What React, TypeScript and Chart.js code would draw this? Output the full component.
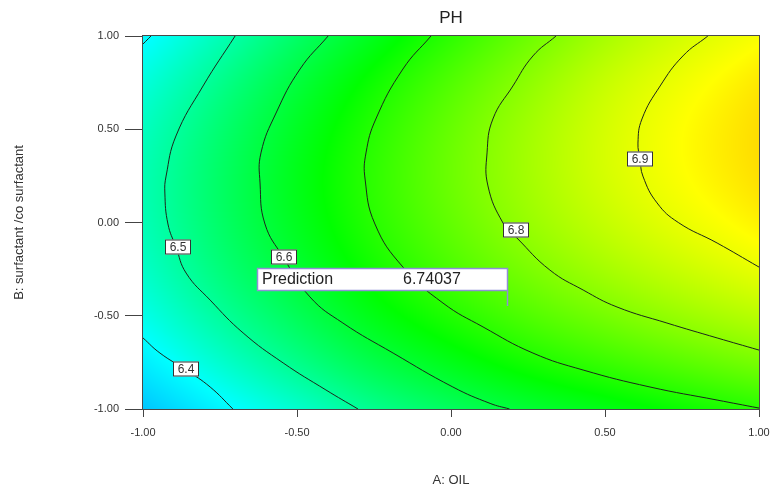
import React, { useEffect, useRef } from "react";
import { Chart, registerables } from "chart.js";
Chart.register(...registerables);

const chartTitle = "PH";
const xAxisTitle = "A: OIL";
const yAxisTitle = "B: surfactant /co surfactant";
const xTickValues = [-1, -0.5, 0, 0.5, 1];
const yTickValues = [-1, -0.5, 0, 0.5, 1];

// Response surface: columns = A values, rows = B values (top to bottom)
const gridA = [-1, -0.75, -0.5, -0.25, 0, 0.25, 0.5, 0.75, 1];
const gridB = [1, 0.75, 0.5, 0.25, 0, -0.25, -0.5, -0.75, -1];
const phGrid = [
  [6.390, 6.473, 6.556, 6.633, 6.705, 6.770, 6.830, 6.876, 6.914],
  [6.434, 6.517, 6.598, 6.674, 6.742, 6.804, 6.861, 6.905, 6.943],
  [6.463, 6.545, 6.624, 6.698, 6.764, 6.823, 6.876, 6.919, 6.955],
  [6.476, 6.557, 6.635, 6.707, 6.770, 6.826, 6.876, 6.917, 6.952],
  [6.473, 6.554, 6.629, 6.700, 6.760, 6.814, 6.860, 6.899, 6.933],
  [6.455, 6.535, 6.608, 6.677, 6.735, 6.785, 6.828, 6.865, 6.898],
  [6.421, 6.500, 6.571, 6.639, 6.693, 6.741, 6.780, 6.816, 6.848],
  [6.371, 6.449, 6.519, 6.585, 6.636, 6.681, 6.717, 6.750, 6.782],
  [6.305, 6.383, 6.450, 6.515, 6.564, 6.606, 6.638, 6.670, 6.700],
];

const colorStopValues = [5.98, 6.4, 6.66, 6.92, 7.18];
const colorStopColors = [
  [0, 0, 255],
  [0, 255, 255],
  [0, 255, 0],
  [255, 255, 0],
  [255, 0, 0],
];

// Contour lines (A, B)
const contour64aX = [-1, -0.974];
const contour64aY = [0.957, 1];
const contour64X = [-1, -0.945, -0.86, -0.782, -0.708];
const contour64Y = [-0.619, -0.7, -0.791, -0.882, -1];
const contour65X = [-0.701, -0.805, -0.893, -0.925, -0.929, -0.919, -0.893, -0.86, -0.782, -0.675, -0.545, -0.406, -0.302];
const contour65Y = [1, 0.732, 0.464, 0.249, 0.158, -0.008, -0.131, -0.271, -0.416, -0.592, -0.753, -0.898, -1];
const contour66X = [-0.399, -0.49, -0.568, -0.617, -0.62, -0.604, -0.545, -0.458, -0.351, -0.188, 0.006, 0.127, 0.19];
const contour66Y = [1, 0.823, 0.587, 0.373, 0.212, -0.008, -0.185, -0.399, -0.539, -0.7, -0.882, -0.97, -1];
const contour67X = [-0.065, -0.156, -0.244, -0.276, -0.279, -0.247, -0.156, -0.026, 0.104, 0.266, 0.429, 0.646, 0.864, 1.0];
const contour67Y = [1, 0.823, 0.555, 0.373, 0.233, -0.008, -0.239, -0.432, -0.56, -0.7, -0.791, -0.882, -0.952, -0.995];
const contour68X = [0.341, 0.266, 0.201, 0.136, 0.117, 0.12, 0.169, 0.214, 0.321, 0.429, 0.539, 0.701, 0.864, 1.0];
const contour68Y = [1, 0.893, 0.732, 0.555, 0.373, 0.196, -0.003, -0.083, -0.255, -0.362, -0.453, -0.539, -0.619, -0.684];
const contour69X = [0.834, 0.753, 0.679, 0.62, 0.607, 0.614, 0.623, 0.669, 0.738, 0.864, 1.0];
const contour69Y = [1, 0.893, 0.732, 0.555, 0.426, 0.34, 0.249, 0.105, 0.0, -0.11, -0.239];

const contourLabelText = ["6.4", "6.5", "6.6", "6.8", "6.9"];
const contourLabelX = [-0.86, -0.886, -0.542, 0.211, 0.614];
const contourLabelY = [-0.786, -0.131, -0.185, -0.038, 0.343];

const predictionLabel = "Prediction";
const predictionValue = "6.74037";
const predictionA = 0.182;
const predictionB = -0.448;

const FONT = "'Liberation Sans', Arial, sans-serif";

function toPoints(xs: number[], ys: number[]) {
  return xs.map((x, i) => ({ x, y: ys[i] }));
}

function gridValue(i: number, j: number): number {
  const nA = gridA.length;
  const nB = gridB.length;
  if (i < 0) return 2 * gridValue(0, j) - gridValue(1, j);
  if (i > nA - 1) return 2 * gridValue(nA - 1, j) - gridValue(nA - 2, j);
  if (j < 0) return 2 * gridValue(i, 0) - gridValue(i, 1);
  if (j > nB - 1) return 2 * gridValue(i, nB - 1) - gridValue(i, nB - 2);
  return phGrid[j][i];
}

function cr(p0: number, p1: number, p2: number, p3: number, t: number) {
  return 0.5 * (2 * p1 + (-p0 + p2) * t + (2 * p0 - 5 * p1 + 4 * p2 - p3) * t * t + (-p0 + 3 * p1 - 3 * p2 + p3) * t * t * t);
}

function sampleSurface(a: number, b: number) {
  const fx = (a - gridA[0]) / (gridA[1] - gridA[0]);
  const fy = (b - gridB[0]) / (gridB[1] - gridB[0]);
  let i = Math.floor(fx);
  let j = Math.floor(fy);
  i = Math.max(0, Math.min(gridA.length - 2, i));
  j = Math.max(0, Math.min(gridB.length - 2, j));
  const tx = fx - i;
  const ty = fy - j;
  const rows: number[] = [];
  for (let k = -1; k <= 2; k++) {
    rows.push(cr(gridValue(i - 1, j + k), gridValue(i, j + k), gridValue(i + 1, j + k), gridValue(i + 2, j + k), tx));
  }
  return cr(rows[0], rows[1], rows[2], rows[3], ty);
}

function colorFor(v: number): number[] {
  const n = colorStopValues.length;
  if (v <= colorStopValues[0]) return colorStopColors[0];
  if (v >= colorStopValues[n - 1]) return colorStopColors[n - 1];
  for (let k = 0; k < n - 1; k++) {
    if (v <= colorStopValues[k + 1]) {
      const t = (v - colorStopValues[k]) / (colorStopValues[k + 1] - colorStopValues[k]);
      const c0 = colorStopColors[k];
      const c1 = colorStopColors[k + 1];
      return [c0[0] + (c1[0] - c0[0]) * t, c0[1] + (c1[1] - c0[1]) * t, c0[2] + (c1[2] - c0[2]) * t];
    }
  }
  return colorStopColors[n - 1];
}

const surfacePlugin = {
  id: "surface",
  beforeDatasetsDraw(chart: any) {
    const { ctx, chartArea, scales } = chart;
    const w = Math.round(chartArea.right - chartArea.left);
    const h = Math.round(chartArea.bottom - chartArea.top);
    const off = document.createElement("canvas");
    off.width = w;
    off.height = h;
    const octx = off.getContext("2d")!;
    const img = octx.createImageData(w, h);
    for (let py = 0; py < h; py++) {
      const b = scales.y.getValueForPixel(chartArea.top + py + 0.5);
      for (let px = 0; px < w; px++) {
        const a = scales.x.getValueForPixel(chartArea.left + px + 0.5);
        const c = colorFor(sampleSurface(a, b));
        const idx = (py * w + px) * 4;
        img.data[idx] = c[0];
        img.data[idx + 1] = c[1];
        img.data[idx + 2] = c[2];
        img.data[idx + 3] = 255;
      }
    }
    octx.putImageData(img, 0, 0);
    ctx.save();
    ctx.drawImage(off, chartArea.left, chartArea.top);
    ctx.restore();
  },
  afterDatasetsDraw(chart: any) {
    const { ctx, chartArea, scales } = chart;
    ctx.save();
    // plot frame
    ctx.strokeStyle = "#4a4a4a";
    ctx.lineWidth = 1;
    ctx.strokeRect(chartArea.left - 0.5, chartArea.top - 0.5, chartArea.right - chartArea.left + 1, chartArea.bottom - chartArea.top + 1);

    // contour labels
    ctx.font = `12px ${FONT}`;
    ctx.textAlign = "center";
    ctx.textBaseline = "middle";
    contourLabelText.forEach((t, k) => {
      const px = Math.round(scales.x.getPixelForValue(contourLabelX[k]));
      const py = Math.round(scales.y.getPixelForValue(contourLabelY[k]));
      const bw = 26;
      const bh = 15;
      ctx.fillStyle = "#ffffff";
      ctx.fillRect(px - bw / 2, py - bh / 2, bw, bh);
      ctx.strokeStyle = "#333333";
      ctx.lineWidth = 1;
      ctx.strokeRect(px - bw / 2 + 0.5, py - bh / 2 + 0.5, bw - 1, bh - 1);
      ctx.fillStyle = "#333333";
      ctx.fillText(t, px, py + 0.5);
    });

    // prediction flag
    const fx = Math.round(scales.x.getPixelForValue(predictionA));
    const fy = Math.round(scales.y.getPixelForValue(predictionB));
    const boxRight = fx;
    const boxLeft = fx - 250;
    const boxBottom = fy - 16;
    const boxTop = fy - 38;
    ctx.strokeStyle = "#8f8fd6";
    ctx.lineWidth = 1.5;
    ctx.beginPath();
    ctx.moveTo(fx + 0.5, boxBottom);
    ctx.lineTo(fx + 0.5, fy);
    ctx.stroke();
    ctx.fillStyle = "#ffffff";
    ctx.fillRect(boxLeft, boxTop, boxRight - boxLeft, boxBottom - boxTop);
    ctx.strokeRect(boxLeft + 0.5, boxTop + 0.5, boxRight - boxLeft, boxBottom - boxTop);
    ctx.fillStyle = "#222222";
    ctx.font = `16px ${FONT}`;
    ctx.textAlign = "left";
    ctx.textBaseline = "middle";
    ctx.fillText(predictionLabel, boxLeft + 5, (boxTop + boxBottom) / 2 + 1);
    ctx.fillText(predictionValue, boxLeft + 146, (boxTop + boxBottom) / 2 + 1);

    // title
    ctx.font = `17px ${FONT}`;
    ctx.textAlign = "center";
    ctx.textBaseline = "middle";
    ctx.fillStyle = "#222222";
    ctx.fillText(chartTitle, (chartArea.left + chartArea.right) / 2, 18);
    ctx.restore();
  },
};

const contourStyle = {
  showLine: true,
  borderColor: "#1c261c",
  borderWidth: 1,
  pointRadius: 0,
  pointHoverRadius: 0,
  tension: 0.45,
  fill: false,
  clip: 0,
};

export default function App() {
  const ref = useRef<HTMLCanvasElement | null>(null);
  useEffect(() => {
    document.body.style.margin = "0";
    const canvas = ref.current!;
    const chart = new Chart(canvas, {
      type: "scatter",
      data: {
        datasets: [
          { label: "6.4a", data: toPoints(contour64aX, contour64aY), ...contourStyle },
          { label: "6.4", data: toPoints(contour64X, contour64Y), ...contourStyle },
          { label: "6.5", data: toPoints(contour65X, contour65Y), ...contourStyle },
          { label: "6.6", data: toPoints(contour66X, contour66Y), ...contourStyle },
          { label: "6.7", data: toPoints(contour67X, contour67Y), ...contourStyle },
          { label: "6.8", data: toPoints(contour68X, contour68Y), ...contourStyle },
          { label: "6.9", data: toPoints(contour69X, contour69Y), ...contourStyle },
        ] as any,
      },
      options: {
        responsive: false,
        animation: false,
        events: [],
        layout: { padding: { top: 36, right: 11, left: 0, bottom: 0 } },
        plugins: { legend: { display: false }, tooltip: { enabled: false }, title: { display: false } },
        scales: {
          x: {
            type: "linear",
            min: -1,
            max: 1,
            afterBuildTicks: (s: any) => {
              s.ticks = xTickValues.map((v) => ({ value: v }));
            },
            afterFit: (s: any) => {
              s.height = 82;
              s.paddingLeft = 0;
              s.paddingRight = 0;
            },
            ticks: {
              callback: (v: any) => Number(v).toFixed(2),
              font: { family: FONT, size: 11 },
              color: "#333333",
              padding: 9,
              maxRotation: 0,
              autoSkip: false,
            },
            grid: { display: true, drawOnChartArea: false, drawTicks: true, tickLength: 8, color: "#444444" },
            border: { display: true, color: "#4a4a4a" },
            title: {
              display: true,
              text: xAxisTitle,
              font: { family: FONT, size: 13 },
              color: "#333333",
              padding: { top: 0, bottom: 3 },
            },
          },
          y: {
            type: "linear",
            min: -1,
            max: 1,
            afterBuildTicks: (s: any) => {
              s.ticks = yTickValues.map((v) => ({ value: v }));
            },
            afterFit: (s: any) => {
              s.width = 143;
              s.paddingTop = 0;
              s.paddingBottom = 0;
            },
            ticks: {
              callback: (v: any) => Number(v).toFixed(2),
              font: { family: FONT, size: 11 },
              color: "#333333",
              padding: 6,
              autoSkip: false,
            },
            grid: { display: true, drawOnChartArea: false, drawTicks: true, tickLength: 18, color: "#444444" },
            border: { display: true, color: "#4a4a4a" },
            title: {
              display: true,
              text: yAxisTitle,
              font: { family: FONT, size: 13 },
              color: "#333333",
              padding: { top: 12, bottom: 0 },
            },
          },
        },
      },
      plugins: [surfacePlugin],
    });
    return () => chart.destroy();
  }, []);
  return (
    <div style={{ width: 770, height: 491 }}>
      <canvas ref={ref} width={770} height={491} />
    </div>
  );
}
